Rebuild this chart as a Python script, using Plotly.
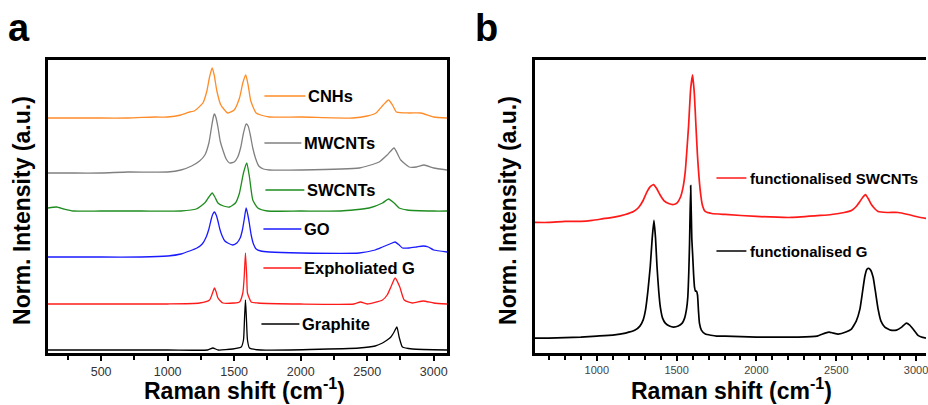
import plotly.graph_objects as go

# ---------------- panel a : stacked Raman spectra (offset baselines) ----------------
cnh_shift = [100, 300, 500, 700, 900, 1000, 1100, 1165, 1200, 1265, 1295, 1315, 1335, 1350, 1370,
             1400, 1452, 1500, 1540, 1565, 1587, 1605, 1625, 1665, 1700, 1765, 2000, 2390, 2500,
             2566, 2620, 2660, 2690, 2720, 2815, 2902, 3000, 3100]
cnh_int = [235, 235, 235, 235, 236, 236, 238, 241, 242, 250, 262, 276, 285, 278, 262,
           248, 240, 243, 255, 270, 278, 268, 252, 240, 238, 236, 236, 235, 237,
           240, 248, 253, 248, 241, 240, 240, 236, 235]

mwcnt_shift = [100, 300, 500, 700, 1000, 1100, 1180, 1240, 1280, 1310, 1330, 1345, 1352, 1362, 1378,
               1395, 1415, 1440, 1465, 1500, 1527, 1550, 1570, 1590, 1605, 1620, 1640, 1660, 1685,
               1720, 1765, 2000, 2440, 2590, 2650, 2702, 2752, 2815, 2870, 2927, 3000, 3100]
mwcnt_int = [180, 180, 180, 181, 181, 183, 187, 192, 198, 210, 226, 237, 239, 236, 226,
             212, 203, 194, 190, 191, 196, 206, 220, 229, 227, 219, 205, 195, 187,
             184, 183, 183, 185, 191, 198, 205, 193, 186, 186, 188, 185, 183]

swcnt_shift = [100, 165, 220, 290, 500, 800, 1100, 1215, 1278, 1310, 1335, 1355, 1378,
               1420, 1465, 1510, 1540, 1570, 1595, 1615, 1640, 1678, 1750, 2000, 2300, 2515, 2615,
               2660, 2702, 2740, 2800, 3000, 3100]
swcnt_int = [145, 146, 144, 142, 142, 142, 142, 144, 150, 156, 160, 156, 150,
             147, 146, 150, 160, 180, 190, 176, 153, 145, 142, 142, 142, 145, 150,
             154, 150, 145, 143, 142, 142]

go_shift = [100, 500, 800, 1000, 1100, 1165, 1220, 1260, 1290, 1310, 1328, 1340, 1352, 1365, 1378,
            1392, 1410, 1430, 1452, 1490, 1520, 1545, 1562, 1575, 1590, 1603, 1615, 1628, 1645,
            1665, 1700, 1765, 2000, 2440, 2560, 2615, 2670, 2710, 2740, 2765, 2815, 2870, 2920,
            2960, 3000, 3100]
go_int = [96, 96, 96, 97, 99, 102, 105, 109, 116, 124, 134, 139, 141, 138, 132,
          124, 117, 112, 110, 108, 110, 115, 123, 133, 145, 138, 129, 118, 109,
          104, 102, 101, 100, 100, 103, 106, 109, 111, 108, 105, 105, 106, 107,
          106, 103, 101]

exg_shift = [100, 1000, 1240, 1315, 1340, 1352, 1365, 1378, 1415, 1500, 1540, 1565, 1575, 1585,
             1595, 1600, 1628, 1678, 2000, 2400, 2450, 2500, 2615, 2650, 2678, 2710, 2745, 2778,
             2840, 2920, 3000, 3100]
exg_int = [49, 49, 50, 53, 61, 65, 61, 55, 50, 50, 51, 60, 75, 100,
           75, 60, 51, 50, 49, 49, 51, 49, 53, 58, 66, 75, 66, 53,
           50, 52, 50, 49]

gra_shift = [100, 1000, 1300, 1340, 1380, 1490, 1553, 1570, 1578, 1585, 1592, 1600, 1615, 1700,
             2440, 2560, 2615, 2650, 2678, 2702, 2723, 2740, 2765, 2840, 3100]
gra_int = [3, 3, 3, 5, 3, 4, 6, 13, 35, 53, 35, 13, 5, 3,
           5, 7, 10, 13, 16, 21, 26, 16, 6, 4, 3]

# ---------------- panel b : functionalised samples ----------------
fswcnt_shift = [612, 700, 800, 900, 971, 1050, 1100, 1179, 1230, 1262, 1290, 1315, 1335, 1356,
                1375, 1395, 1420, 1450, 1481, 1505, 1523, 1540, 1554, 1565, 1575, 1588, 1600,
                1611, 1621, 1630, 1637, 1648, 1662, 1679, 1720, 1804, 2000, 2220, 2400, 2470,
                2550, 2595, 2625, 2648, 2665, 2683, 2700, 2720, 2740, 2762, 2820, 2887, 2950,
                3000, 3062]
fswcnt_int = [131, 131, 132, 132, 133, 135, 136, 139, 142, 146, 153, 162, 167, 169,
              165, 159, 153, 150, 149, 151, 156, 166, 182, 205, 228, 265, 279,
              260, 228, 200, 183, 163, 148, 142, 140, 139, 137, 136, 138, 139,
              141, 143, 147, 152, 156, 159, 155, 149, 145, 142, 141, 141, 139,
              137, 135]

fg_shift = [612, 700, 800, 900, 1000, 1100, 1180, 1240, 1270, 1290, 1305, 1320, 1335, 1347, 1358,
            1368, 1377, 1388, 1398, 1412, 1429, 1455, 1481, 1510, 1535, 1550, 1562, 1570, 1576,
            1581, 1588, 1595, 1600, 1606, 1612, 1618, 1625, 1631, 1637, 1643, 1655, 1680, 1750,
            1804, 2000, 2262, 2380, 2430, 2455, 2480, 2512, 2560, 2595, 2625, 2648, 2665, 2679,
            2692, 2704, 2716, 2731, 2745, 2762, 2780, 2804, 2840, 2877, 2910, 2939, 2960, 2981,
            3010, 3033, 3062]
fg_int = [15, 15, 15.5, 16, 17, 18, 20, 23, 27, 33, 43, 62, 87, 115, 133,
          115, 87, 62, 46, 35, 30, 27, 26, 27, 30, 35, 44, 56, 80,
          110, 168, 115, 100, 80, 66, 62, 62, 58, 42, 30, 23, 19, 17,
          17, 16, 16, 17, 20, 21, 20, 19, 21, 24, 32, 44, 62, 77,
          84, 85, 83, 76, 62, 44, 32, 26, 23, 23, 26, 30, 28, 24,
          18, 16, 15]

labels_a = ["CNHs", "MWCNTs", "SWCNTs", "GO", "Expholiated G", "Graphite"]
labels_b = ["functionalised SWCNTs", "functionalised G"]

W, H = 928, 405
FONT = "Liberation Sans, Arial, Helvetica, sans-serif"

colors_a = ["#FF8C28", "#808080", "#1E8C1E", "#1A1AFF", "#FF1A1A", "#000000"]
colors_b = ["#FF1A1A", "#000000"]

series_a = [(cnh_shift, cnh_int), (mwcnt_shift, mwcnt_int), (swcnt_shift, swcnt_int),
            (go_shift, go_int), (exg_shift, exg_int), (gra_shift, gra_int)]
series_b = [(fswcnt_shift, fswcnt_int), (fg_shift, fg_int)]

fig = go.Figure()
for (xs, ys), c in zip(series_a, colors_a):
    fig.add_trace(go.Scatter(x=xs, y=ys, mode="lines", xaxis="x", yaxis="y",
                             line=dict(color=c, width=1.3, shape="spline", smoothing=0.5),
                             showlegend=False, hoverinfo="skip"))
for (xs, ys), c in zip(series_b, colors_b):
    fig.add_trace(go.Scatter(x=xs, y=ys, mode="lines", xaxis="x2", yaxis="y2",
                             line=dict(color=c, width=1.7, shape="spline", smoothing=0.4),
                             showlegend=False, hoverinfo="skip"))


def px(x):
    return x / W


def py(y):
    return 1 - y / H


y_dom = [py(353), py(60)]
axis_common = dict(showline=True, linecolor="black", linewidth=2.5, showgrid=False,
                   zeroline=False)

fig.update_layout(
    width=W, height=H, margin=dict(l=0, r=0, t=0, b=0),
    paper_bgcolor="white", plot_bgcolor="white",
    font=dict(family=FONT, color="black"),
    xaxis=dict(domain=[px(48), px(448)], range=[100, 3100], anchor="y", mirror=True,
               ticks="outside", ticklen=5, tickwidth=1.5, tickcolor="black",
               tick0=0, dtick=500, tickfont=dict(size=12.5, color="#333333", family=FONT),
               minor=dict(tick0=0, dtick=250, ticks="outside", ticklen=4, tickwidth=1.5,
                          tickcolor="black"),
               **axis_common),
    yaxis=dict(domain=y_dom, range=[0, 293], anchor="x", mirror=True, showticklabels=False,
               ticks="", **axis_common),
    xaxis2=dict(domain=[px(536), 1], range=[612, 3062], anchor="y2", mirror=True,
                ticks="outside", ticklen=5, tickwidth=1.5, tickcolor="black",
                tick0=0, dtick=500, tickfont=dict(size=11, color="#444444", family=FONT),
                ticklabeloverflow="allow",
                minor=dict(tick0=0, dtick=100, ticks="outside", ticklen=4, tickwidth=1.5,
                           tickcolor="black"),
                **axis_common),
    yaxis2=dict(domain=y_dom, range=[0, 294], anchor="x2", mirror=False, showticklabels=False,
                ticks="", **axis_common),
)

annotations = []
shapes = []

# panel letters
annotations.append(dict(text="<b>a</b>", x=px(6), y=py(28), xref="paper", yref="paper",
                        xanchor="left", yanchor="middle", showarrow=False,
                        font=dict(size=38, family=FONT, color="black")))
annotations.append(dict(text="<b>b</b>", x=px(474), y=py(28), xref="paper", yref="paper",
                        xanchor="left", yanchor="middle", showarrow=False,
                        font=dict(size=38, family=FONT, color="black")))

# axis titles
for cx in (245, 733):
    annotations.append(dict(text="<b>Raman shift (cm<sup>-1</sup>)</b>", x=px(cx), y=py(389),
                            xref="paper", yref="paper", xanchor="center", yanchor="middle",
                            showarrow=False, font=dict(size=23, family=FONT, color="black")))
for cx in (22, 509):
    annotations.append(dict(text="<b>Norm. Intensity (a.u.)</b>", x=px(cx), y=py(210),
                            xref="paper", yref="paper", xanchor="center", yanchor="middle",
                            textangle=-90, showarrow=False,
                            font=dict(size=23, family=FONT, color="black")))

# in-plot labels, panel a
leg_a_y = [96, 143, 190, 229, 268, 324]
leg_a_x0 = [265, 265, 266, 264, 264, 262]
leg_a_x1 = [306, 302, 305, 302, 302, 300]
for lab, c, yy, x0, x1 in zip(labels_a, colors_a, leg_a_y, leg_a_x0, leg_a_x1):
    shapes.append(dict(type="line", xref="paper", yref="paper", x0=px(x0), x1=px(x1),
                       y0=py(yy), y1=py(yy), line=dict(color=c, width=1.3)))
    annotations.append(dict(text=f"<b>{lab}</b>", x=px(x1 + 1), y=py(yy), xref="paper",
                            yref="paper", xanchor="left", yanchor="middle", showarrow=False,
                            font=dict(size=16.5, family=FONT, color="black")))

# in-plot labels, panel b
leg_b_y = [178, 251]
for lab, c, yy in zip(labels_b, colors_b, leg_b_y):
    shapes.append(dict(type="line", xref="paper", yref="paper", x0=px(718), x1=px(748),
                       y0=py(yy), y1=py(yy), line=dict(color=c, width=1.5)))
    annotations.append(dict(text=f"<b>{lab}</b>", x=px(750), y=py(yy), xref="paper",
                            yref="paper", xanchor="left", yanchor="middle", showarrow=False,
                            font=dict(size=15, family=FONT, color="black")))

fig.update_layout(annotations=annotations, shapes=shapes)
fig.write_html("out.html")
